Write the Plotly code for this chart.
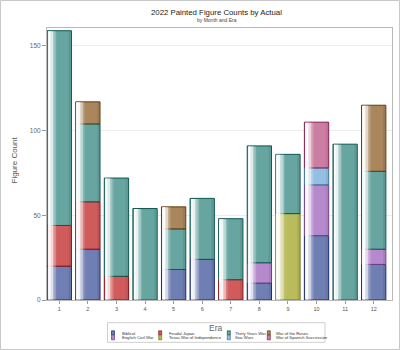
import plotly.graph_objects as go

months = [1, 2, 3, 4, 5, 6, 7, 8, 9, 10, 11, 12]
month_labels = [str(m) for m in months]

# Era series (stack order = alphabetical)
biblical      = [20, 30, 0, 0, 18, 24, 0, 10, 0, 38, 0, 21]
english_civil = [0, 0, 0, 0, 0, 0, 0, 12, 0, 30, 0, 9]
feudal_japan  = [24, 28, 14, 0, 0, 0, 12, 0, 0, 0, 0, 0]
star_wars     = [0, 0, 0, 0, 0, 0, 0, 0, 0, 10, 0, 0]
texas         = [0, 0, 0, 0, 0, 0, 0, 0, 51, 0, 0, 0]
thirty_years  = [115, 46, 58, 54, 24, 36, 36, 69, 35, 0, 92, 46]
spanish_succ  = [0, 0, 0, 0, 0, 0, 0, 0, 0, 27, 0, 0]
roses         = [0, 13, 0, 0, 13, 0, 0, 0, 0, 0, 0, 39]

stack_order = [
    ("Biblical", biblical, "#6F7EB3", "#1E2A6E"),
    ("English Civil War", english_civil, "#B689CD", "#6A3F86"),
    ("Feudal Japan", feudal_japan, "#D05B5B", "#8A1010"),
    ("Star Wars", star_wars, "#94BFE3", "#3F6F99"),
    ("Texas War of Independence", texas, "#BABC5C", "#6E6F1C"),
    ("Thirty Years War", thirty_years, "#66A5A0", "#0E5650"),
    ("War of Spanish Succession", spanish_succ, "#CC7DA3", "#82204F"),
    ("War of the Roses", roses, "#A9865B", "#5E3C0E"),
]
legend_columns = [("Biblical", "English Civil War"),
                  ("Feudal Japan", "Texas War of Independence"),
                  ("Thirty Years War", "Star Wars"),
                  ("War of the Roses", "War of Spanish Succession")]

BW = 0.85
OFF = -BW / 2

bases = {}
cum = [0] * 12
for name, vals, c, lc in stack_order:
    bases[name] = list(cum)
    cum = [a + b for a, b in zip(cum, vals)]
totals = cum

fig = go.Figure()
info = {n: (v, c, lc) for n, v, c, lc in stack_order}
for name, vals, c, lc in stack_order:
    xs, ys, bs = [], [], []
    for m, v, b in zip(months, vals, bases[name]):
        if v:
            xs.append(m); ys.append(v); bs.append(b)
    fig.add_trace(go.Bar(
        x=xs, y=ys, base=bs, name=name, width=BW, offset=OFF,
        marker=dict(color=c, line=dict(color=lc, width=1)),
    ))

# gloss highlight strips
n_strips = 12
start = OFF + 0.04
end = OFF + 0.42 * BW
ds = (end - start) / n_strips
for i in range(n_strips):
    t = i / (n_strips - 1)
    op = 0.9 * (1 - t) ** 1.4
    fig.add_trace(go.Bar(
        x=months, y=[t_ - 0.6 for t_ in totals], base=[0.3] * 12,
        width=ds * 1.02, offset=start + i * ds,
        marker=dict(color="white", line=dict(width=0)), opacity=op,
        showlegend=False, hoverinfo="skip",
    ))
fig.add_trace(go.Bar(
    x=months, y=[t_ - 0.6 for t_ in totals], base=[0.3] * 12,
    width=0.07, offset=-OFF - 0.1,
    marker=dict(color="black", line=dict(width=0)), opacity=0.07,
    showlegend=False, hoverinfo="skip",
))

font = "Liberation Sans, Arial, sans-serif"

L, R, T, B = 47, 8, 28, 50
PW, PH = 400 - L - R, 350 - T - B
def px(x): return (x - L) / PW
def py(y): return (350 - B - y) / PH

shapes = [
    dict(type="rect", xref="paper", yref="paper",
         x0=px(0.5), x1=px(399.5), y0=py(349.5), y1=py(0.5),
         line=dict(color="#c8c8c8", width=1)),
    dict(type="rect", xref="paper", yref="paper",
         x0=px(107.5), x1=px(325), y0=py(342.3), y1=py(322.7),
         line=dict(color="#cfcfcf", width=1)),
]
annotations = [
    dict(text="2022 Painted Figure Counts by Actual", xref="paper", yref="paper",
         x=px(216.7), y=py(12.7), xanchor="center", yanchor="middle",
         showarrow=False, font=dict(size=7.8, color="#1a1a1a", family=font)),
    dict(text="by Month and Era", xref="paper", yref="paper",
         x=px(216.5), y=py(20.3), xanchor="center", yanchor="middle",
         showarrow=False, font=dict(size=5, color="#444", family=font)),
    dict(text="Era", xref="paper", yref="paper", x=px(216), y=py(327.5),
         xanchor="center", yanchor="middle", showarrow=False,
         font=dict(size=8.5, color="#666", family=font)),
    dict(text="Figure Count", xref="paper", yref="paper", x=px(13.5), y=py(160),
         xanchor="center", yanchor="middle", showarrow=False, textangle=-90,
         font=dict(size=8, color="#555", family=font)),
]
col_sw_x = [111.5, 158.7, 227.3, 267.3]
col_tx_x = [119.5, 166.5, 233.0, 273.5]
row_y = [(330.8, 334.8), (335.0, 339.8)]
row_ty = [333.0, 337.4]
for ci, col in enumerate(legend_columns):
    for ri, name in enumerate(col):
        vals, c, lc = info[name]
        y0, y1 = row_y[ri]
        shapes.append(dict(type="rect", xref="paper", yref="paper",
                           x0=px(col_sw_x[ci]), x1=px(col_sw_x[ci] + 3),
                           y0=py(y1), y1=py(y0), fillcolor=c,
                           line=dict(color=lc, width=0.7)))
        annotations.append(dict(text=name, xref="paper", yref="paper",
                                x=px(col_tx_x[ci]), y=py(row_ty[ri]),
                                xanchor="left", yanchor="middle", showarrow=False,
                                font=dict(size=4.2, color="#333", family=font)))

fig.update_layout(
    width=400, height=350,
    barmode="overlay",
    margin=dict(l=L, r=R, t=T, b=B),
    paper_bgcolor="white", plot_bgcolor="white",
    font=dict(family=font, color="#555"),
    showlegend=False,
    annotations=annotations,
    shapes=shapes,
)
fig.update_xaxes(
    range=[0.57, 12.64], tickvals=months, ticktext=month_labels,
    showline=True, linecolor="#b8b8b8", mirror=True, showgrid=False,
    ticks="outside", ticklen=3, tickcolor="#999", tickfont=dict(size=5.5, color="#555"),
    zeroline=False,
)
fig.update_yaxes(
    range=[0, 160.6], tickvals=[0, 50, 100, 150],
    showline=True, linecolor="#b8b8b8", mirror=True,
    showgrid=True, gridcolor="#ececec", gridwidth=1,
    ticks="outside", ticklen=4, tickcolor="#999", tickfont=dict(size=6.5, color="#666"),
    zeroline=False,
)

fig.write_html("out.html")
